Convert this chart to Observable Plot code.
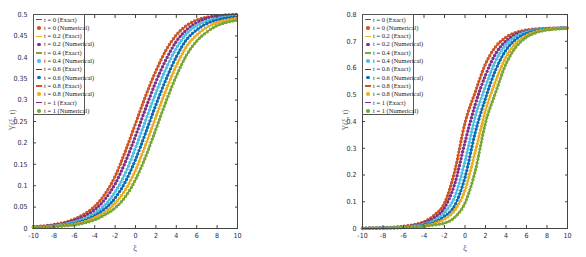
<!DOCTYPE html>
<html><head><meta charset="utf-8">
<script src="https://cdn.jsdelivr.net/npm/d3@7"></script>
<script src="https://cdn.jsdelivr.net/npm/@observablehq/plot@0.6"></script>
<style>
body{margin:0;background:#fff;}
#wrap{position:relative;width:586px;height:257px;overflow:hidden;background:#fff;}
.panel{position:absolute;top:0;}
.ylab{position:absolute;font-family:"Liberation Serif",serif;font-size:8px;color:#666;white-space:nowrap;transform:translate(-50%,-50%) rotate(-90deg);}
.xlab{position:absolute;font-family:"Liberation Serif",serif;font-size:9px;color:#666;transform:translate(-50%,-50%);}
.legend{position:absolute;border:1px solid #555;background:#fff;box-sizing:border-box;font-family:"Liberation Serif",serif;font-size:6.5px;color:#222;}
.legend .row{position:absolute;left:0;height:8px;line-height:8px;white-space:nowrap;}
.legend .sym{position:absolute;}
.legend .txt{position:absolute;left:10px;top:0;}
</style></head>
<body><div id="wrap"></div>
<script>
const xi = [-10,-9,-8,-7,-6,-5,-4,-3,-2,-1,0,1,2,3,4,5,6,7,8,9,10];
const tLabels = ["0","0.2","0.4","0.6","0.8","1"];
const exactColors = ["#0072BD","#EDB120","#77AC30","#A2142F","#D95319","#7E2F8E"];
const numColors = ["#D95319","#7E2F8E","#4DBEEE","#0072BD","#EDB120","#77AC30"];
const xTicks = [-10,-8,-6,-4,-2,0,2,4,6,8,10];
const leftYTicks = [0,0.05,0.1,0.15,0.2,0.25,0.3,0.35,0.4,0.45,0.5];
const rightYTicks = [0,0.1,0.2,0.3,0.4,0.5,0.6,0.7,0.8];

// Left panel series
const leftT0  = [.004,.006,.009,.014,.022,.034,.052,.080,.122,.180,.245,.310,.368,.417,.452,.474,.487,.494,.497,.499,.500];
const leftT02 = [.004,.005,.008,.012,.019,.029,.044,.068,.104,.155,.216,.281,.343,.395,.437,.464,.481,.491,.496,.498,.499];
const leftT04 = [.003,.004,.006,.010,.015,.023,.036,.055,.085,.129,.188,.253,.317,.374,.421,.455,.474,.485,.491,.494,.497];
const leftT06 = [.003,.004,.005,.008,.012,.019,.030,.046,.071,.109,.161,.224,.289,.349,.401,.441,.464,.479,.487,.492,.495];
const leftT08 = [.003,.003,.005,.007,.010,.016,.025,.038,.059,.090,.136,.196,.261,.324,.380,.425,.452,.470,.481,.487,.491];
const leftT1  = [.002,.003,.004,.006,.008,.013,.020,.032,.048,.074,.114,.168,.232,.297,.356,.405,.438,.459,.474,.482,.487];

// Right panel series
const rightT0  = [.001,.002,.003,.005,.008,.014,.025,.050,.095,.215,.395,.510,.615,.680,.715,.733,.742,.746,.748,.749,.750];
const rightT02 = [.001,.002,.003,.004,.007,.012,.021,.040,.077,.167,.323,.464,.573,.654,.701,.726,.738,.744,.747,.749,.750];
const rightT04 = [.001,.001,.002,.003,.006,.009,.016,.030,.059,.119,.251,.418,.531,.628,.687,.719,.735,.743,.746,.748,.749];
const rightT06 = [.000,.001,.002,.003,.005,.007,.013,.023,.045,.086,.191,.359,.487,.594,.667,.708,.729,.740,.745,.748,.749];
const rightT08 = [.000,.001,.001,.002,.004,.006,.010,.018,.035,.068,.143,.287,.441,.552,.641,.694,.722,.737,.744,.747,.748];
const rightT1  = [.000,.001,.001,.002,.003,.005,.008,.013,.020,.042,.095,.215,.395,.510,.615,.680,.715,.733,.742,.746,.748];

const leftSeries = [leftT0,leftT02,leftT04,leftT06,leftT08,leftT1];
const rightSeries = [rightT0,rightT02,rightT04,rightT06,rightT08,rightT1];

const wrap = document.getElementById("wrap");
const noText = () => "";

function makePanel(series, yDomain, yTicks, o) {
  const marks = [];
  series.forEach((vals, i) => {
    const d = vals.map((v, j) => ({xi: xi[j], y: v}));
    marks.push(Plot.line(d, {x: "xi", y: "y", stroke: exactColors[i], strokeWidth: 1.2, curve: "monotone-x"}));
    marks.push(Plot.line(d, {x: "xi", y: "y", stroke: numColors[i], strokeWidth: 3.4, strokeDasharray: "0 3.5", strokeLinecap: "round", curve: "monotone-x"}));
  });
  const svg = Plot.plot({
    width: o.width, height: 257,
    marginLeft: o.ml, marginRight: o.mr, marginTop: 14, marginBottom: 29,
    x: {domain: [-10, 10], label: null},
    y: {domain: yDomain, label: null},
    style: {fontFamily: "'Liberation Sans Narrow','DejaVu Sans Condensed',sans-serif", fontSize: "7px", color: "#1c2a4a", background: "transparent", overflow: "visible"},
    marks: [
      ...marks,
      Plot.frame({stroke: "#444", strokeWidth: 1}),
      Plot.axisX({ticks: xTicks, tickFormat: noText, tickSize: -3, label: null, stroke: "#444"}),
      Plot.axisX({anchor: "top", ticks: xTicks, tickFormat: noText, tickSize: -3, label: null, stroke: "#444"}),
      Plot.axisY({ticks: yTicks, tickFormat: noText, tickSize: -3, label: null, stroke: "#444"}),
      Plot.axisY({anchor: "right", ticks: yTicks, tickFormat: noText, tickSize: -3, label: null, stroke: "#444"}),
      Plot.axisX({ticks: xTicks, tickSize: 0, tickPadding: 5, tickFormat: d => String(d), label: null, fill: "#1c2a4a"}),
      Plot.axisY({ticks: yTicks, tickSize: 0, tickPadding: 6, tickFormat: d => String(d), label: null, fill: "#1c2a4a"})
    ]
  });
  svg.classList.add("panel");
  svg.style.left = o.left + "px";
  wrap.appendChild(svg);

  const yl = document.createElement("div");
  yl.className = "ylab"; yl.textContent = "Y(ξ, t)";
  yl.style.left = o.ylabX + "px"; yl.style.top = "120px";
  wrap.appendChild(yl);
  const xl = document.createElement("div");
  xl.className = "xlab"; xl.textContent = "ξ";
  xl.style.left = o.xlabX + "px"; xl.style.top = "248px";
  wrap.appendChild(xl);

  const lg = document.createElement("div");
  lg.className = "legend";
  lg.style.left = o.legX + "px"; lg.style.top = "14px";
  lg.style.width = "52px"; lg.style.height = "101px";
  let k = 0;
  tLabels.forEach((t, i) => {
    ["Exact", "Numerical"].forEach(kind => {
      const row = document.createElement("div");
      row.className = "row";
      row.style.top = (0.5 + k * 8.3) + "px";
      const sym = document.createElement("div");
      sym.className = "sym";
      if (kind === "Exact") {
        Object.assign(sym.style, {left: "2px", top: "3.5px", width: "6px", height: "1.4px", background: exactColors[i]});
      } else {
        Object.assign(sym.style, {left: "3.3px", top: "2.3px", width: "3.6px", height: "3.6px", borderRadius: "50%", background: numColors[i]});
      }
      const txt = document.createElement("div");
      txt.className = "txt";
      txt.textContent = "t = " + t + " (" + kind + ")";
      row.appendChild(sym); row.appendChild(txt);
      lg.appendChild(row);
      k++;
    });
  });
  wrap.appendChild(lg);
}

makePanel(leftSeries, [0, 0.5], leftYTicks, {left: 0, width: 250, ml: 33, mr: 13, ylabX: 12, xlabX: 135, legX: 33});
makePanel(rightSeries, [0, 0.8], rightYTicks, {left: 300, width: 286, ml: 62, mr: 19, ylabX: 345, xlabX: 465, legX: 362});
</script>
</body></html>
